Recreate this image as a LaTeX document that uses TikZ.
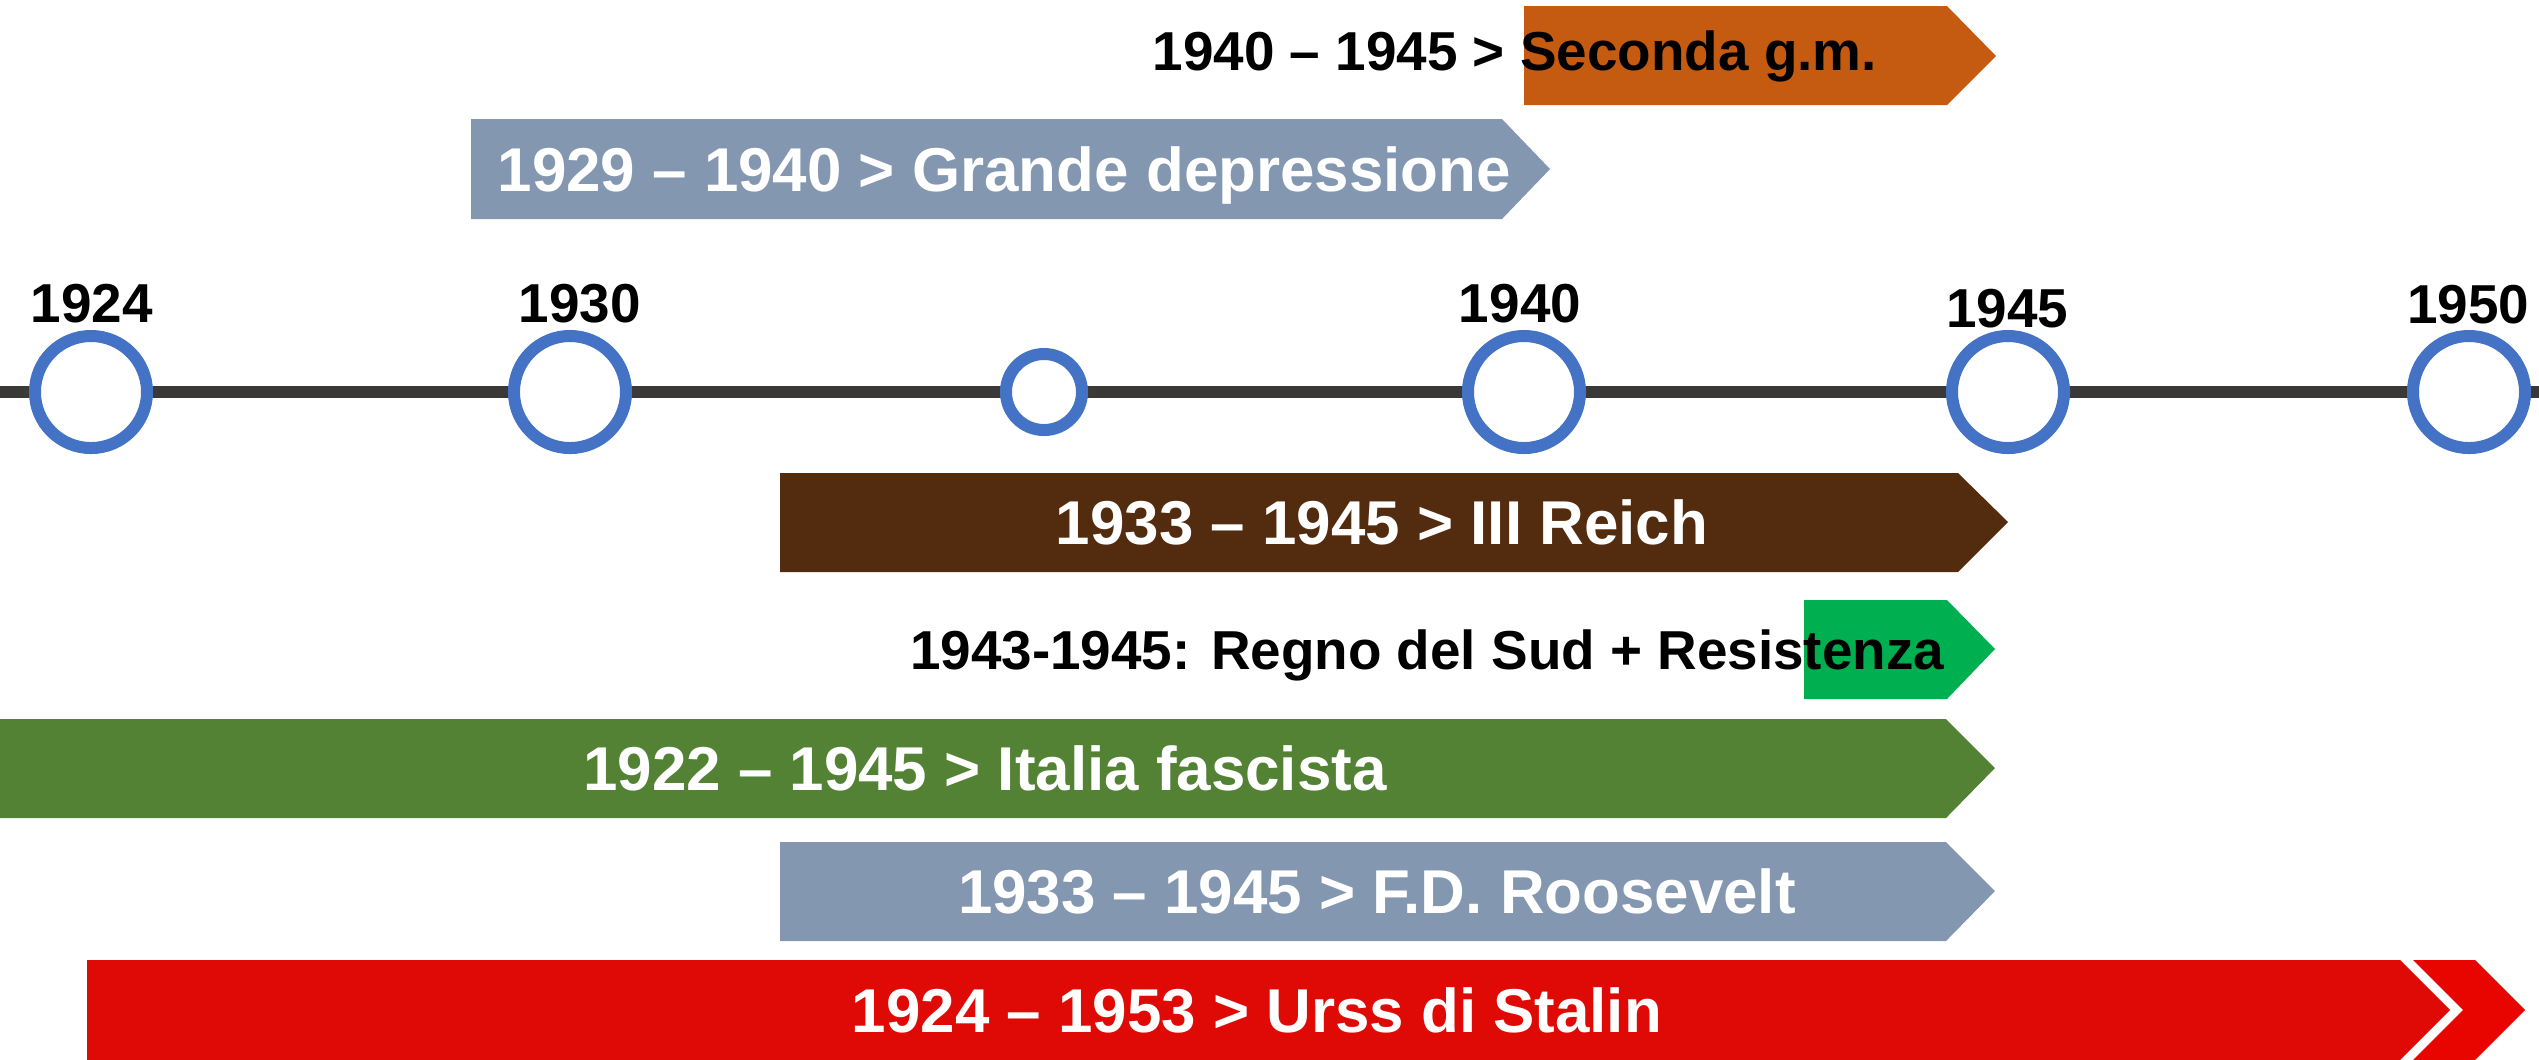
\documentclass[tikz,border=0pt]{standalone}
\usepackage{fontspec}
\setmainfont{Liberation Sans}
\definecolor{axisgrey}{HTML}{3B3838}
\definecolor{ringblue}{HTML}{4472C4}
\definecolor{warorange}{HTML}{C55A11}
\definecolor{slategrey}{HTML}{8497B0}
\definecolor{reichbrown}{HTML}{532B0E}
\definecolor{resgreen}{HTML}{00B050}
\definecolor{fascgreen}{HTML}{548235}
\definecolor{stalinred}{HTML}{DF0A05}
\definecolor{stalinredtip}{HTML}{E80500}
\begin{document}
\begin{tikzpicture}[x=0.01cm, y=-0.01cm, year node/.style={circle,draw=ringblue,fill=white,line width=0.12cm,minimum size=1.12cm,inner sep=0pt},small node/.style={year node,minimum size=0.76cm},white label/.style={text=white,font=\fontsize{17.6}{20}\selectfont\bfseries,inner sep=0pt,anchor=base},black label/.style={text=black,font=\fontsize{15.6}{18}\selectfont\bfseries,inner sep=0pt}]
\useasboundingbox (0,0) rectangle (2539,1059);
\begin{scope}
\fill[warorange] (1524,6) -- (1947,6) -- (1996,56) -- (1947,105) -- (1524,105) -- cycle;
\fill[slategrey] (471,119) -- (1502,119) -- (1550,169) -- (1502,219) -- (471,219) -- cycle;
\fill[reichbrown] (780,473) -- (1958,473) -- (2008,522) -- (1958,572) -- (780,572) -- cycle;
\fill[resgreen] (1804,600) -- (1947,600) -- (1995,649) -- (1947,699) -- (1804,699) -- cycle;
\fill[fascgreen] (0,719) -- (1946,719) -- (1995,768) -- (1946,818) -- (0,818) -- cycle;
\fill[slategrey] (780,842) -- (1946,842) -- (1995,891) -- (1946,941) -- (780,941) -- cycle;
\fill[stalinred] (87,960) -- (2400,960) -- (2450,1010) -- (2400,1060) -- (87,1060) -- cycle;
\fill[stalinredtip] (2413,960) -- (2475,960) -- (2525,1010) -- (2475,1060) -- (2413,1060) -- (2463,1010) -- cycle;
%\fill[] (,) -- (,) -- (,) -- (,) -- (,) -- cycle;
\end{scope}
\begin{scope}
\coordinate (axisL) at (0,392);
\coordinate (axisR) at (2539,392);
\draw[axisgrey, line width=0.12cm] (axisL) -- (axisR);
\node[year node] (c1924) at (91,392) {};
\node[year node] (c1930) at (570,392) {};
\node[small node] (c1933) at (1044,392) {};
\node[year node] (c1940) at (1524,392) {};
\node[year node] (c1945) at (2008,392) {};
\node[year node] (c1950) at (2469,392) {};
\end{scope}
\begin{scope}[every node/.style={black label,anchor=base}]
\node (y1924) at (92,322) {1924};
\node (y1930) at (580,322) {1930};
\node (y1940) at (1520,322) {1940};
\node (y1945) at (2007,327) {1945};
\node (y1950) at (2468,323) {1950};
\end{scope}
\begin{scope}
\node[black label,anchor=base west] (seconda) at (1152,70) {1940 – 1945 > Seconda g.m.};
\node[white label,anchor=base west] (depressione) at (497,191) {1929 – 1940 > Grande depressione};
\node[white label] (reich) at (1382,544) {1933 – 1945 > III Reich};
\node[black label,anchor=base east] (regno) at (1945,669) {1943-1945: Regno del Sud + Resistenza};
\node[white label] (fascismo) at (985,790) {1922 – 1945 > Italia fascista};
\node[white label] (roosevelt) at (1377,913) {1933 – 1945 > F.D. Roosevelt};
\node[white label] (stalin) at (1257,1032) {1924 – 1953 > Urss di Stalin};
\end{scope}
\end{tikzpicture}
\end{document}
